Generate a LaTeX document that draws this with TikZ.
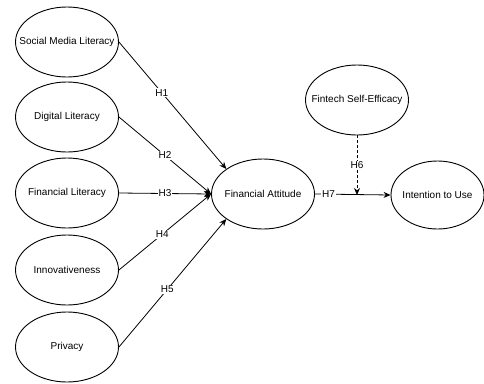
\documentclass[tikz,border=0pt]{standalone}
\usepackage{fontspec}
\setmainfont{Liberation Sans}
\usetikzlibrary{shapes.geometric,arrows.meta}
\begin{document}
\begin{tikzpicture}[x=1pt,y=-1pt,
  var/.style={draw=black,line width=0.9pt,ellipse,minimum width=103pt,minimum height=70pt,inner sep=0pt,
    label={[font=\fontsize{10}{12}\selectfont,inner sep=0pt]center:#1}},
  link/.style={draw=black,line width=0.8pt,-{Stealth[length=7pt,width=6pt]}},
  hlab/.style={fill=white,inner sep=1pt,font=\fontsize{10}{12}\selectfont}
]
\useasboundingbox (0,0) rectangle (484,383);
\node[var={Social Media Literacy}] (sml) at (67,42) {};
\node[var={Digital Literacy}] (dl) at (67,117) {};
\node[var={Financial Literacy}] (fl) at (67,193) {};
\node[var={Innovativeness}] (inn) at (67,270) {};
\node[var={Privacy}] (pr) at (67,347) {};
\node[var={Financial Attitude}] (fa) at (263,194) {};
\node[var={Fintech Self-Efficacy}] (fse) at (357,100) {};
\node[var={Intention to Use},minimum width=93pt,minimum height=68pt] (itu) at (437.5,195) {};
\coordinate (mod) at (357,195);
\draw[link] (sml.east) -- node[hlab,pos=0.4] {H1} (fa.north west);
\draw[link] (dl.east) -- node[hlab,pos=0.5] {H2} (fa.west);
\draw[link] (fl.east) -- node[hlab,pos=0.5] {H3} (fa.west);
\draw[link] (inn.east) -- node[hlab,pos=0.47] {H4} (fa.west);
\draw[link] (pr.east) -- node[hlab,pos=0.45] {H5} (fa.south west);
\draw[link] (fa.east) -- node[hlab,pos=0.18] {H7} (itu.west);
\draw[link,dash pattern=on 3pt off 2pt] (fse.south) -- node[hlab,pos=0.5] {H6} (mod);
\end{tikzpicture}
\end{document}
